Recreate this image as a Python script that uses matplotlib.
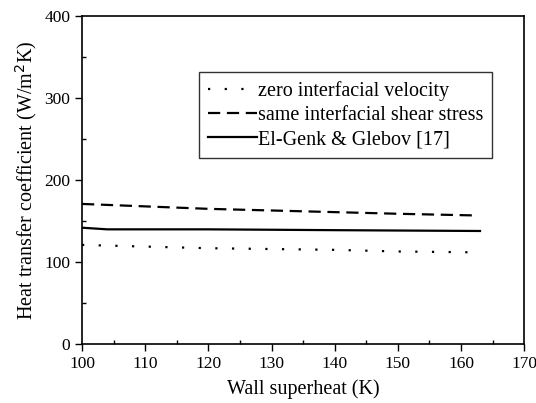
import matplotlib
matplotlib.use("Agg")
import matplotlib.pyplot as plt
from matplotlib.ticker import MultipleLocator

plt.rcParams['font.family'] = ['Liberation Serif', 'DejaVu Serif']

x_zero = [100, 110, 120, 130, 140, 150, 162]
y_zero = [121, 119, 117, 116, 115, 113, 112]
x_shear = [100, 110, 120, 130, 140, 150, 162]
y_shear = [171, 168, 165, 163, 161, 159, 157]
x_genk = [100, 104, 120, 140, 163]
y_genk = [142, 140, 140, 139, 138]

labels = ["zero interfacial velocity", "same interfacial shear stress", "El-Genk & Glebov [17]"]

fig = plt.figure(figsize=(5.36, 4.03), dpi=100)
ax = fig.add_axes([0.153, 0.146, 0.825, 0.814])
ax.plot(x_zero, y_zero, color='black', lw=1.6, linestyle=(0, (1, 6.5)), label=labels[0])
ax.plot(x_shear, y_shear, color='black', lw=1.6, linestyle=(0, (5.5, 3)), label=labels[1])
ax.plot(x_genk, y_genk, color='black', lw=1.6, linestyle='-', label=labels[2])

ax.set_xlim(100, 170)
ax.set_ylim(0, 400)
ax.xaxis.set_major_locator(MultipleLocator(10))
ax.xaxis.set_minor_locator(MultipleLocator(5))
ax.yaxis.set_major_locator(MultipleLocator(100))
ax.yaxis.set_minor_locator(MultipleLocator(50))
ax.tick_params(which='major', direction='out', length=5, labelsize=12.5, width=1)
ax.tick_params(which='minor', direction='in', length=3, width=1)
for s in ax.spines.values():
    s.set_linewidth(1.2)

ax.set_xlabel("Wall superheat (K)", fontsize=14.5, labelpad=5)
ax.set_ylabel("Heat transfer coefficient (W/m$^2$K)", fontsize=14.5, labelpad=4)

leg = ax.legend(loc='upper left', bbox_to_anchor=(0.265, 0.83), fontsize=14.5,
                frameon=True, fancybox=False, edgecolor='black', handlelength=2.4,
                handletextpad=0.05, borderpad=0.45, labelspacing=0.25, borderaxespad=0)
leg.get_frame().set_linewidth(1)

fig.savefig("out.png", dpi=100)
